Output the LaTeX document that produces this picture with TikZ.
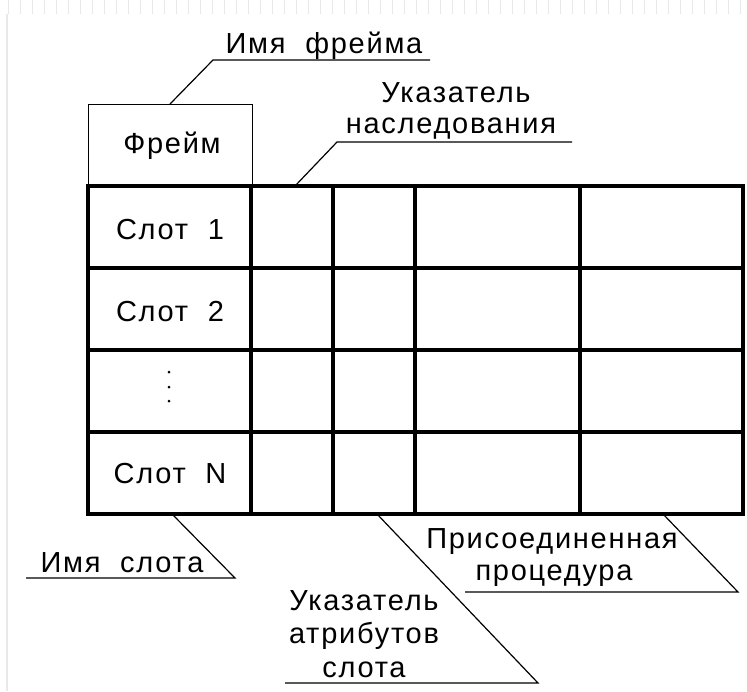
\documentclass[tikz,border=0pt]{standalone}
\usepackage{fontspec}
\setmainfont{Liberation Sans}[LetterSpace=6]
\begin{document}
\begin{tikzpicture}[x=1pt,y=-1pt,
  thin line/.style={line width=1.2pt, black},
  thick line/.style={line width=4pt, black, line cap=rect},
  lbl/.style={anchor=base, inner sep=0pt, font=\fontsize{29}{34}\selectfont},
  dotmark/.style={circle, fill=black, inner sep=0pt, minimum size=3pt}]
\useasboundingbox (0,0) rectangle (747,691);
% light ruler marks of the screenshot
\draw[gray!18, line width=14pt, dash pattern=on 1.5pt off 10.5pt] (7.5,7) -- (747,7);
\draw[gray!18, line width=1.2pt] (7,14) -- (7,691);

% frame name box
\node[draw, thin line, minimum width=164pt, minimum height=82pt, inner sep=0pt, anchor=north west] (frame) at (88,104) {};
\node[lbl] (frametxt) at (172,153) {Фрейм};

% table grid
\coordinate (tl) at (88,186);
\coordinate (br) at (743,514);
\foreach \y in {186,268,350,432,514} \draw[thick line] (88,\y) -- (743,\y);
\foreach \x in {88,251,333,415,580,743} \draw[thick line] (\x,186) -- (\x,514);

% slot names
\node[lbl] (s1) at (170,239) {Слот\ \ 1};
\node[lbl] (s2) at (170,321) {Слот\ \ 2};
\node[dotmark] (d1) at (169,372) {};
\node[dotmark] (d2) at (169,387) {};
\node[dotmark] (d3) at (169,401) {};
\node[lbl] (sn) at (170,483) {Слот\ \ N};

% callout: frame name
\node[lbl] (imf) at (324,53) {Имя\ \ фрейма};
\coordinate (imfL) at (213,60);
\coordinate (imfR) at (430,60);
\coordinate (imfP) at (170,104);
\draw[thin line] (imfR) -- (imfL) -- (imfP);

% callout: inheritance pointer
\node[lbl] (ukn1) at (456,102) {Указатель};
\node[lbl] (ukn2) at (451,133) {наследования};
\coordinate (uknL) at (337,142);
\coordinate (uknR) at (572,142);
\coordinate (uknP) at (295,186);
\draw[thin line] (uknR) -- (uknL) -- (uknP);

% callout: slot name
\node[lbl] (ims) at (122,572) {Имя\ \ слота};
\coordinate (imsL) at (26,578);
\coordinate (imsR) at (235,578);
\coordinate (imsP) at (172,514);
\draw[thin line] (imsL) -- (imsR) -- (imsP);

% callout: slot attributes pointer
\node[lbl] (uka1) at (364,610) {Указатель};
\node[lbl] (uka2) at (364,643) {атрибутов};
\node[lbl] (uka3) at (364,677) {слота};
\coordinate (ukaL) at (285,683);
\coordinate (ukaR) at (538,683);
\coordinate (ukaP) at (377,514);
\draw[thin line] (ukaL) -- (ukaR) -- (ukaP);

% callout: attached procedure
\node[lbl] (pp1) at (552,548) {Присоединенная};
\node[lbl] (pp2) at (554,580) {процедура};
\coordinate (ppL) at (465,592);
\coordinate (ppR) at (738,592);
\coordinate (ppP) at (663,514);
\draw[thin line] (ppL) -- (ppR) -- (ppP);
\end{tikzpicture}
\end{document}
